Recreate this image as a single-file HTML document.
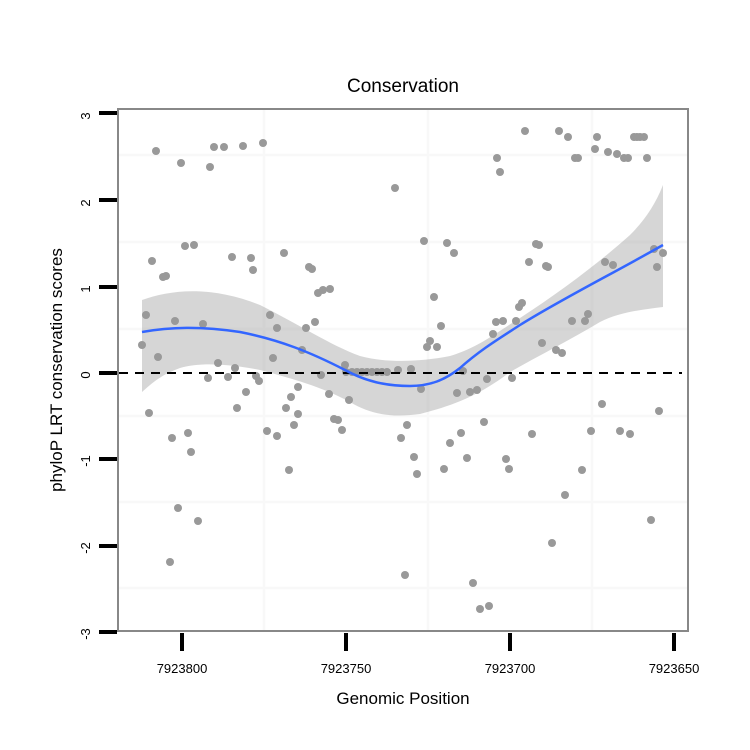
<!DOCTYPE html>
<html><head><meta charset="utf-8"><style>
html,body{margin:0;padding:0;background:#fff;}
svg{display:block;font-family:"Liberation Sans",Arial,sans-serif;}
</style></head><body>
<svg width="750" height="750" viewBox="0 0 750 750" xmlns="http://www.w3.org/2000/svg">
<rect width="750" height="750" fill="#fff"/>
<g stroke="#f8f8f8" stroke-width="2.5">
<line x1="119" y1="155" x2="688" y2="155"/><line x1="119" y1="242" x2="688" y2="242"/>
<line x1="119" y1="329" x2="688" y2="329"/><line x1="119" y1="416" x2="688" y2="416"/>
<line x1="119" y1="502" x2="688" y2="502"/><line x1="119" y1="588" x2="688" y2="588"/>
<line x1="264" y1="109" x2="264" y2="631"/><line x1="428" y1="109" x2="428" y2="631"/><line x1="592" y1="109" x2="592" y2="631"/>
</g>
<g fill="#999">
<circle cx="142" cy="345" r="4"/><circle cx="146" cy="315" r="4"/><circle cx="149" cy="413" r="4"/><circle cx="152" cy="261" r="4"/><circle cx="156" cy="151" r="4"/><circle cx="158" cy="357" r="4"/><circle cx="163" cy="277" r="4"/><circle cx="166" cy="276" r="4"/><circle cx="170" cy="562" r="4"/><circle cx="172" cy="438" r="4"/><circle cx="175" cy="321" r="4"/><circle cx="178" cy="508" r="4"/><circle cx="181" cy="163" r="4"/><circle cx="185" cy="246" r="4"/><circle cx="188" cy="433" r="4"/><circle cx="191" cy="452" r="4"/><circle cx="194" cy="245" r="4"/><circle cx="198" cy="521" r="4"/><circle cx="203" cy="324" r="4"/><circle cx="210" cy="167" r="4"/><circle cx="208" cy="378" r="4"/><circle cx="214" cy="147" r="4"/><circle cx="218" cy="363" r="4"/><circle cx="224" cy="147" r="4"/><circle cx="228" cy="377" r="4"/><circle cx="232" cy="257" r="4"/><circle cx="235" cy="368" r="4"/><circle cx="237" cy="408" r="4"/><circle cx="243" cy="146" r="4"/><circle cx="246" cy="392" r="4"/><circle cx="251" cy="258" r="4"/><circle cx="253" cy="270" r="4"/><circle cx="256" cy="376" r="4"/><circle cx="259" cy="381" r="4"/><circle cx="263" cy="143" r="4"/><circle cx="267" cy="431" r="4"/><circle cx="270" cy="315" r="4"/><circle cx="273" cy="358" r="4"/><circle cx="277" cy="436" r="4"/><circle cx="277" cy="328" r="4"/><circle cx="284" cy="253" r="4"/><circle cx="286" cy="408" r="4"/><circle cx="289" cy="470" r="4"/><circle cx="291" cy="397" r="4"/><circle cx="294" cy="425" r="4"/><circle cx="298" cy="387" r="4"/><circle cx="298" cy="414" r="4"/><circle cx="302" cy="350" r="4"/><circle cx="306" cy="328" r="4"/><circle cx="309" cy="267" r="4"/><circle cx="312" cy="269" r="4"/><circle cx="315" cy="322" r="4"/><circle cx="318" cy="293" r="4"/><circle cx="321" cy="375" r="4"/><circle cx="323" cy="290" r="4"/><circle cx="330" cy="289" r="4"/><circle cx="329" cy="394" r="4"/><circle cx="334" cy="419" r="4"/><circle cx="338" cy="420" r="4"/><circle cx="342" cy="430" r="4"/><circle cx="345" cy="365" r="4"/><circle cx="349" cy="400" r="4"/><circle cx="346" cy="372" r="4"/><circle cx="352" cy="372" r="4"/><circle cx="357" cy="372" r="4"/><circle cx="362" cy="372" r="4"/><circle cx="367" cy="372" r="4"/><circle cx="372" cy="372" r="4"/><circle cx="377" cy="372" r="4"/><circle cx="382" cy="372" r="4"/><circle cx="387" cy="372" r="4"/><circle cx="395" cy="188" r="4"/><circle cx="398" cy="370" r="4"/><circle cx="401" cy="438" r="4"/><circle cx="405" cy="575" r="4"/><circle cx="407" cy="425" r="4"/><circle cx="411" cy="369" r="4"/><circle cx="414" cy="457" r="4"/><circle cx="417" cy="474" r="4"/><circle cx="421" cy="389" r="4"/><circle cx="424" cy="241" r="4"/><circle cx="427" cy="347" r="4"/><circle cx="430" cy="341" r="4"/><circle cx="434" cy="297" r="4"/><circle cx="437" cy="347" r="4"/><circle cx="441" cy="326" r="4"/><circle cx="444" cy="469" r="4"/><circle cx="447" cy="243" r="4"/><circle cx="450" cy="443" r="4"/><circle cx="454" cy="253" r="4"/><circle cx="457" cy="393" r="4"/><circle cx="461" cy="433" r="4"/><circle cx="463" cy="371" r="4"/><circle cx="467" cy="458" r="4"/><circle cx="470" cy="392" r="4"/><circle cx="473" cy="583" r="4"/><circle cx="477" cy="390" r="4"/><circle cx="480" cy="609" r="4"/><circle cx="484" cy="422" r="4"/><circle cx="487" cy="379" r="4"/><circle cx="489" cy="606" r="4"/><circle cx="493" cy="334" r="4"/><circle cx="496" cy="322" r="4"/><circle cx="497" cy="158" r="4"/><circle cx="500" cy="172" r="4"/><circle cx="503" cy="321" r="4"/><circle cx="506" cy="459" r="4"/><circle cx="509" cy="469" r="4"/><circle cx="512" cy="378" r="4"/><circle cx="516" cy="321" r="4"/><circle cx="519" cy="307" r="4"/><circle cx="522" cy="303" r="4"/><circle cx="525" cy="131" r="4"/><circle cx="529" cy="262" r="4"/><circle cx="532" cy="434" r="4"/><circle cx="536" cy="244" r="4"/><circle cx="539" cy="245" r="4"/><circle cx="542" cy="343" r="4"/><circle cx="546" cy="266" r="4"/><circle cx="548" cy="267" r="4"/><circle cx="552" cy="543" r="4"/><circle cx="556" cy="350" r="4"/><circle cx="559" cy="131" r="4"/><circle cx="562" cy="353" r="4"/><circle cx="565" cy="495" r="4"/><circle cx="568" cy="137" r="4"/><circle cx="572" cy="321" r="4"/><circle cx="575" cy="158" r="4"/><circle cx="578" cy="158" r="4"/><circle cx="582" cy="470" r="4"/><circle cx="585" cy="321" r="4"/><circle cx="588" cy="314" r="4"/><circle cx="591" cy="431" r="4"/><circle cx="595" cy="149" r="4"/><circle cx="597" cy="137" r="4"/><circle cx="602" cy="404" r="4"/><circle cx="605" cy="262" r="4"/><circle cx="608" cy="152" r="4"/><circle cx="613" cy="265" r="4"/><circle cx="617" cy="154" r="4"/><circle cx="620" cy="431" r="4"/><circle cx="624" cy="158" r="4"/><circle cx="628" cy="158" r="4"/><circle cx="630" cy="434" r="4"/><circle cx="634" cy="137" r="4"/><circle cx="637" cy="137" r="4"/><circle cx="640" cy="137" r="4"/><circle cx="644" cy="137" r="4"/><circle cx="647" cy="158" r="4"/><circle cx="651" cy="520" r="4"/><circle cx="654" cy="249" r="4"/><circle cx="657" cy="267" r="4"/><circle cx="659" cy="411" r="4"/><circle cx="663" cy="253" r="4"/>
</g>
<path d="M142,300 C170,290 210,285 260,305 C300,325 330,345 360,356 C385,363 420,362 450,356 C480,347 500,330 520,318 C560,292 600,262 630,235 C645,220 655,205 663,185 L663,307 C640,310 620,312 600,322 C570,340 540,355 510,372 C480,395 455,405 420,414 C390,418 370,414 350,402 C320,386 290,378 260,370 C230,364 200,362 180,368 C160,375 150,385 142,392 Z" fill="#999" fill-opacity="0.4"/>
<line x1="119" y1="373" x2="682" y2="373" stroke="#000" stroke-width="2" stroke-dasharray="9,7"/>
<path d="M142,332 C170,327 200,326 240,332 C280,340 310,352 345,370 C365,381 385,386 410,386 C430,386 445,380 460,368 C480,350 500,338 520,325 C560,300 610,275 663,245" fill="none" stroke="#3366ff" stroke-width="2.5"/>
<rect x="118" y="109" width="570" height="522" fill="none" stroke="#888" stroke-width="2"/>
<g stroke="#000" stroke-width="4">
<line x1="99" y1="113" x2="117" y2="113"/><line x1="99" y1="200" x2="117" y2="200"/><line x1="99" y1="287" x2="117" y2="287"/><line x1="99" y1="373" x2="117" y2="373"/><line x1="99" y1="459" x2="117" y2="459"/><line x1="99" y1="546" x2="117" y2="546"/><line x1="99" y1="632" x2="117" y2="632"/>
<line x1="182" y1="633" x2="182" y2="651"/><line x1="346" y1="633" x2="346" y2="651"/><line x1="510" y1="633" x2="510" y2="651"/><line x1="674" y1="633" x2="674" y2="651"/>
</g>
<g font-size="13" fill="#000" text-anchor="middle">
<text transform="translate(86,116) rotate(-90)" dy="4">3</text>
<text transform="translate(86,203) rotate(-90)" dy="4">2</text>
<text transform="translate(86,289) rotate(-90)" dy="4">1</text>
<text transform="translate(86,375) rotate(-90)" dy="4">0</text>
<text transform="translate(86,461) rotate(-90)" dy="4">-1</text>
<text transform="translate(86,548) rotate(-90)" dy="4">-2</text>
<text transform="translate(86,634) rotate(-90)" dy="4">-3</text>
<text x="182" y="673">7923800</text><text x="346" y="673">7923750</text><text x="510" y="673">7923700</text><text x="674" y="673">7923650</text>
</g>
<text x="403" y="92" font-size="19" text-anchor="middle">Conservation</text>
<text x="403" y="704" font-size="17" text-anchor="middle">Genomic Position</text>
<text transform="translate(62,370) rotate(-90)" font-size="17" text-anchor="middle">phyloP LRT conservation scores</text>
</svg>
</body></html>
